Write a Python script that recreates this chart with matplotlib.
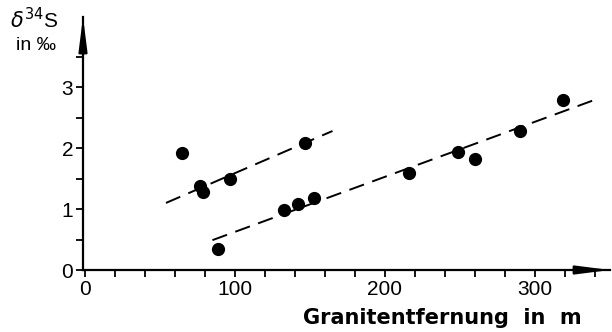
import matplotlib

matplotlib.use("Agg")
import matplotlib.pyplot as plt

# measured points: distance from granite (m), delta34S (permil)
dist_m = [65, 77, 79, 97, 89, 133, 142, 153, 147, 216, 249, 260, 290, 319]
d34s = [1.92, 1.38, 1.28, 1.49, 0.34, 0.98, 1.08, 1.18, 2.08, 1.59, 1.93, 1.82, 2.28, 2.79]

# dashed trend lines (start/end)
upper_x = [54, 165]
upper_y = [1.10, 2.28]
lower_x = [85, 343]
lower_y = [0.49, 2.82]

x_ticks = [0, 100, 200, 300]
y_ticks = [0, 1, 2, 3]

plt.rcParams["font.family"] = ["Liberation Sans", "DejaVu Sans"]

fig = plt.figure(figsize=(6.12, 3.32), dpi=100)
ax = fig.add_axes([83 / 612, 62 / 332, 527 / 612, 253 / 332])
ax.set_xlim(-1.3, 350)
ax.set_ylim(0, 4.15)

ax.plot(upper_x, upper_y, color="black", lw=1.4, dashes=(8, 4.5))
ax.plot(lower_x, lower_y, color="black", lw=1.4, dashes=(8, 4.5))
ax.plot(dist_m, d34s, "o", color="black", ms=8.5, mec="black")

for side in ("top", "right"):
    ax.spines[side].set_visible(False)
for side in ("left", "bottom"):
    ax.spines[side].set_linewidth(1.6)

ax.set_xticks(x_ticks)
ax.set_xticks(range(20, 341, 20), minor=True)
ax.set_yticks(y_ticks)
ax.set_yticks([0.5, 1.5, 2.5, 3.5], minor=True)
ax.tick_params(which="both", direction="out", length=5, width=1.3, labelsize=15, pad=2)

# arrow heads at the axis ends
arrow = dict(arrowstyle="-|>,head_length=1.1,head_width=0.14", color="black",
             lw=1.6, mutation_scale=18, shrinkA=0, shrinkB=0)
ax.annotate("", xy=(1, 0), xytext=(0.93, 0), xycoords="axes fraction",
            arrowprops=arrow, annotation_clip=False)
ax.annotate("", xy=(0, 1), xytext=(0, 0.85), xycoords="axes fraction",
            arrowprops=arrow, annotation_clip=False)

fig.text(582 / 612, 1 - 318 / 332, "Granitentfernung  in  m", ha="right", va="center",
         fontsize=15, fontweight="bold", family="DejaVu Sans")
fig.text(10 / 612, 1 - 20 / 332, r"$\delta^{34}$S", ha="left", va="center", fontsize=15)
fig.text(16 / 612, 1 - 46 / 332, "in ‰", ha="left", va="center", fontsize=14)

fig.savefig("out.png", dpi=100)
